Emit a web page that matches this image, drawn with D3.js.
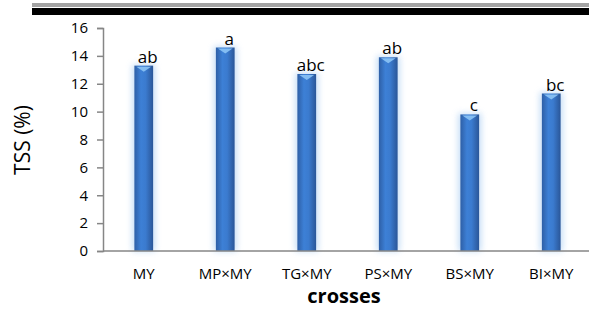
<!DOCTYPE html>
<html>
<head>
<meta charset="utf-8">
<script src="https://cdn.jsdelivr.net/npm/d3@7"></script>
<style>
  body { margin: 0; background: #fff; }
  svg { display: block; font-family: "Open Sans", sans-serif; }
</style>
</head>
<body>
<div id="chart"></div>
<script>
// data
const crosses = ['MY', 'MP×MY', 'TG×MY', 'PS×MY', 'BS×MY', 'BI×MY'];
const tss = [13.3, 14.6, 12.7, 13.9, 9.8, 11.3];
const letters = ['ab', 'a', 'abc', 'ab', 'c', 'bc'];
const yTicks = [0, 2, 4, 6, 8, 10, 12, 14, 16];

const width = 589, height = 309;

const svg = d3.select('#chart')
    .append('svg')
    .attr('width', width)
    .attr('height', height);

// header rules
svg.append('rect').attr('x', 32).attr('y', 3).attr('width', width - 32).attr('height', 4).attr('fill', '#a3a3a3');
svg.append('rect').attr('x', 32).attr('y', 8).attr('width', width - 32).attr('height', 7).attr('fill', '#000');

const defs = svg.append('defs');
const grad = defs.append('linearGradient').attr('id', 'barGrad')
    .attr('x1', '0%').attr('x2', '100%').attr('y1', '0%').attr('y2', '0%');
grad.append('stop').attr('offset', '0%').attr('stop-color', '#2e5fa6');
grad.append('stop').attr('offset', '35%').attr('stop-color', '#3d80d6');
grad.append('stop').attr('offset', '60%').attr('stop-color', '#3b7bcf');
grad.append('stop').attr('offset', '100%').attr('stop-color', '#2a5698');

const glow = defs.append('filter').attr('id', 'glow')
    .attr('x', '-60%').attr('y', '-10%').attr('width', '220%').attr('height', '120%');
glow.append('feGaussianBlur').attr('stdDeviation', 3);

const x = d3.scaleBand()
    .domain(crosses)
    .range([103, 592])
    .paddingInner(0.77)
    .paddingOuter(0.385);

const y = d3.scaleLinear()
    .domain([0, 16])
    .range([251, 28]);

// y axis
const yAxis = svg.append('g')
    .attr('transform', 'translate(103,0)')
    .call(d3.axisLeft(y).tickValues(yTicks).tickSize(6).tickPadding(9));
yAxis.select('.domain').attr('stroke', '#868686').attr('stroke-width', 1.5);
yAxis.selectAll('.tick line').attr('stroke', '#868686').attr('stroke-width', 1.5);
yAxis.selectAll('.tick text').attr('fill', '#000').style('font-size', '15px').style('font-family', '"Open Sans", sans-serif');

const bw = x.bandwidth();
const bars = svg.append('g').selectAll('g')
    .data(crosses)
    .join('g');

// soft glow behind the bars
bars.append('rect')
    .attr('x', d => x(d) - 2)
    .attr('y', (d, i) => y(tss[i]) - 1)
    .attr('width', bw + 4)
    .attr('height', (d, i) => y(0) - y(tss[i]) + 1)
    .attr('fill', '#a9cdf2')
    .attr('opacity', 0.7)
    .attr('filter', 'url(#glow)');

bars.append('rect')
    .attr('x', d => x(d))
    .attr('y', (d, i) => y(tss[i]))
    .attr('width', bw)
    .attr('height', (d, i) => y(0) - y(tss[i]))
    .attr('fill', 'url(#barGrad)');

// light cap at the top of each bar
bars.append('path')
    .attr('d', (d, i) => {
        const x0 = x(d), t = y(tss[i]);
        return `M${x0 + 2},${t + 1}L${x0 + bw - 2},${t + 1}L${x0 + bw / 2},${t + 6}Z`;
    })
    .attr('fill', '#8cc4f5')
    .attr('opacity', 0.9);

// x axis
const xAxis = svg.append('g')
    .attr('transform', 'translate(0,251)')
    .call(d3.axisBottom(x).tickSize(0).tickPadding(17));
xAxis.select('.domain').attr('stroke', '#868686').attr('stroke-width', 1.5)
    .attr('d', 'M103,0H589');
xAxis.selectAll('.tick text').attr('fill', '#000').style('font-size', '15px').style('font-family', '"Open Sans", sans-serif');

// significance letters
svg.append('g').selectAll('text')
    .data(letters)
    .join('text')
    .attr('x', (d, i) => x(crosses[i]) + bw / 2 + 4)
    .attr('y', (d, i) => y(tss[i]) - 3)
    .attr('text-anchor', 'middle')
    .style('font-size', '17px')
    .text(d => d);

// axis titles
svg.append('text')
    .attr('transform', 'translate(30,140) rotate(-90)')
    .attr('text-anchor', 'middle')
    .style('font-size', '21px')
    .text('TSS (%)');

svg.append('text')
    .attr('x', 344)
    .attr('y', 303)
    .attr('text-anchor', 'middle')
    .style('font-size', '20px')
    .style('font-weight', 'bold')
    .text('crosses');
</script>
</body>
</html>
